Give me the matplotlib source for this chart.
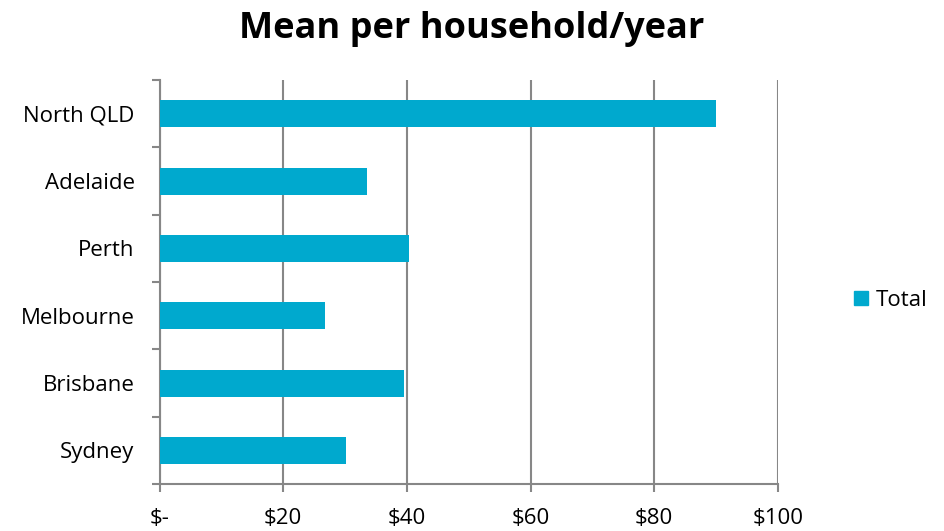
import matplotlib
matplotlib.use("Agg")
import matplotlib.pyplot as plt
from matplotlib.ticker import FixedLocator, FuncFormatter
from matplotlib.patches import Patch

# data
cities = ["Sydney", "Brisbane", "Melbourne", "Perth", "Adelaide", "North QLD"]
totals = [30.2, 39.6, 26.7, 40.3, 33.5, 90.0]
x_ticks = [0, 20, 40, 60, 80, 100]

bar_col = "#00A9CE"
grey = "#878787"

plt.rcParams["font.family"] = ["Open Sans", "DejaVu Sans"]

fig = plt.figure(figsize=(9.44, 5.31), dpi=100)
ax = fig.add_axes([0.169, 0.0885, 0.655, 0.7605])

ypos = list(range(len(cities)))
ax.barh(ypos, totals, height=0.4, color=bar_col, zorder=3)

ax.set_xlim(0, 100)
ax.set_ylim(-0.5, len(cities) - 0.5)
ax.set_xticks(x_ticks)
ax.xaxis.set_major_formatter(FuncFormatter(lambda v, p: "$-" if v == 0 else "$%d" % v))
ax.set_yticks(ypos)
ax.set_yticklabels(cities)
ax.yaxis.set_minor_locator(FixedLocator([i - 0.5 for i in range(len(cities) + 1)]))

ax.grid(axis="x", color=grey, linewidth=1.5, zorder=0)
for s in ["top", "right"]:
    ax.spines[s].set_visible(False)
for s in ["left", "bottom"]:
    ax.spines[s].set_color(grey)
    ax.spines[s].set_linewidth(1.5)

ax.tick_params(axis="y", which="major", length=0, pad=18, labelsize=16)
ax.tick_params(axis="y", which="minor", length=6, width=1.5, color=grey)
ax.tick_params(axis="x", length=6, width=1.5, color=grey, labelsize=16, pad=11)

fig.suptitle("Mean per household/year", fontsize=26, fontweight="bold", y=0.98)

fig.legend(handles=[Patch(color=bar_col, label="Total")], loc="center left",
           bbox_to_anchor=(0.884, 0.435), frameon=False, fontsize=16,
           handlelength=0.6, handleheight=0.6, handletextpad=0.35)

fig.savefig("out.png", dpi=100)
